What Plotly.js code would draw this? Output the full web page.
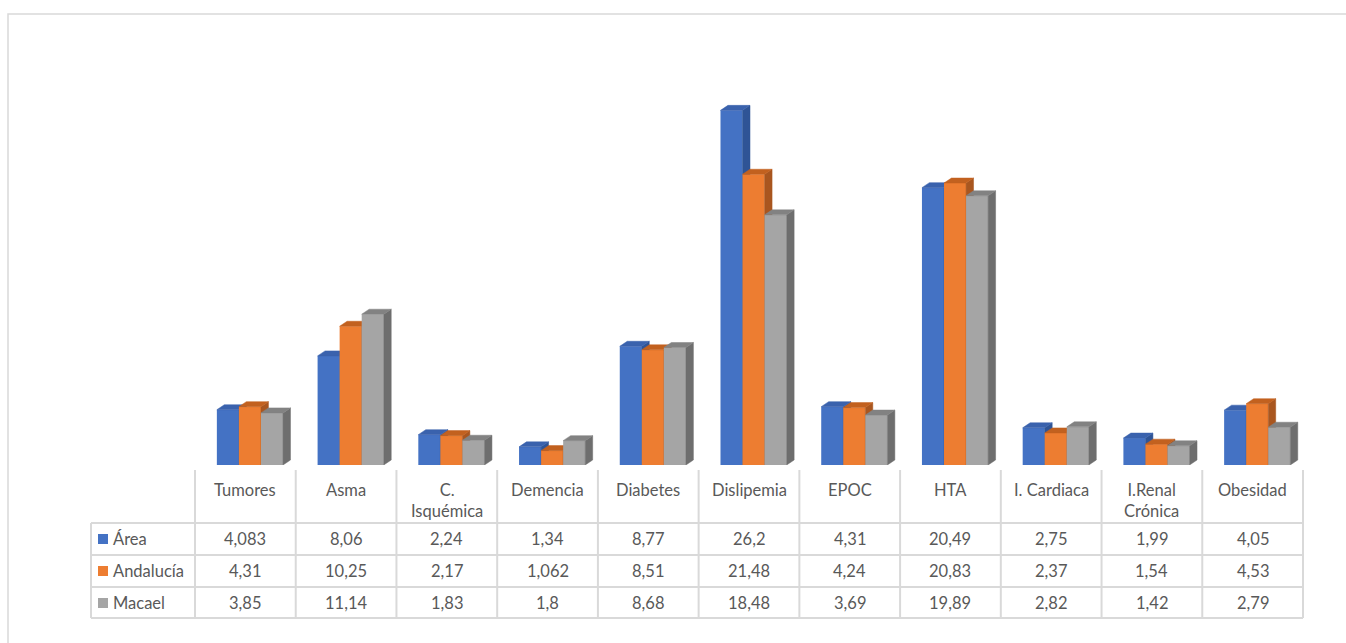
<!DOCTYPE html>
<html>
<head>
<meta charset="utf-8">
<script src="https://cdn.plot.ly/plotly-3.0.1.min.js"></script>
<style>html,body{margin:0;padding:0;background:#fff;}#chart{width:1346px;height:643px;}</style>
</head>
<body>
<div id="chart"></div>
<script>
// ---- data ----
var categories = ['Tumores','Asma','C. Isquémica','Demencia','Diabetes','Dislipemia','EPOC','HTA','I. Cardiaca','I.Renal Crónica','Obesidad'];
var headerLabels = ['Tumores','Asma','C.<br>Isquémica','Demencia','Diabetes','Dislipemia','EPOC','HTA','I. Cardiaca','I.Renal<br>Crónica','Obesidad'];
var seriesNames = ['Área','Andalucía','Macael'];
var area      = [4.083, 8.06, 2.24, 1.34, 8.77, 26.2, 4.31, 20.49, 2.75, 1.99, 4.05];
var andalucia = [4.31, 10.25, 2.17, 1.062, 8.51, 21.48, 4.24, 20.83, 2.37, 1.54, 4.53];
var macael    = [3.85, 11.14, 1.83, 1.8, 8.68, 18.48, 3.69, 19.89, 2.82, 1.42, 2.79];

// ---- style ----
var seriesValues = [area, andalucia, macael];
var frontColors = ['#4472C4','#ED7D31','#A5A5A5'];
var sideColors  = ['#2F5496','#A9561F','#6E6E6E'];
var topColors   = ['#3A62AD','#C2611F','#828282'];
var barWidth = 0.219;
var offsets = [-0.283, -0.064, 0.155];
var dx = 0.074, dy = 0.37;
var yMax = 28;

var W = 1346, H = 643;
var mL = 195, mR = 43, mT = 86, mB = 178;
var plotW = W - mL - mR, plotH = H - mT - mB;
var baseY = H - mB;
function px2x(px){ return (px - mL) / plotW; }
function py2y(py){ return (baseY - py) / plotH; }

var xIdx = categories.map(function(c,i){return i;});
var traces = [];
for (var s = 0; s < 3; s++) {
  var vals = seriesValues[s];
  var xa = s === 0 ? 'x' : 'x' + (s+1);
  var ya = s === 0 ? 'y' : 'y' + (s+1);
  var sx = [], sy = [], tx = [], ty = [];
  for (var i = 0; i < vals.length; i++) {
    var xl = i + offsets[s], xr = xl + barWidth, v = vals[i];
    sx.push(xr, xr, xr+dx, xr+dx, xr, null);
    sy.push(0, v, v+dy, dy, 0, null);
    tx.push(xl, xr, xr+dx, xl+dx, xl, null);
    ty.push(v, v, v+dy, v+dy, v, null);
  }
  traces.push({type:'bar', x:xIdx, y:vals, name:seriesNames[s], width:barWidth, offset:offsets[s],
    marker:{color:frontColors[s], line:{width:0}}, xaxis:xa, yaxis:ya, hoverinfo:'skip', showlegend:false});
  traces.push({type:'scatter', mode:'lines', x:sx, y:sy, fill:'toself', fillcolor:sideColors[s],
    line:{color:sideColors[s], width:0.5}, xaxis:xa, yaxis:ya, hoverinfo:'skip', showlegend:false});
  traces.push({type:'scatter', mode:'lines', x:tx, y:ty, fill:'toself', fillcolor:topColors[s],
    line:{color:topColors[s], width:0.5}, xaxis:xa, yaxis:ya, hoverinfo:'skip', showlegend:false});
}

var axX = {range:[-0.5, categories.length - 0.5], visible:false, fixedrange:true};
var axY = {range:[0, yMax], visible:false, fixedrange:true};

var gridColor = '#D9D9D9';
var shapes = [];
// outer chart border
shapes.push({type:'rect', xref:'paper', yref:'paper', x0:px2x(8), x1:px2x(1360), y0:py2y(660), y1:py2y(14),
  line:{color:gridColor, width:1.5}, fillcolor:'rgba(0,0,0,0)', layer:'below'});
var tableLeft = px2x(91);
var rowLines = [523, 555, 587, 618];
rowLines.forEach(function(py){
  shapes.push({type:'line', xref:'paper', yref:'paper', x0:tableLeft, x1:1, y0:py2y(py), y1:py2y(py), line:{color:gridColor, width:2}});
});
shapes.push({type:'line', xref:'paper', yref:'paper', x0:tableLeft, x1:tableLeft, y0:py2y(523), y1:py2y(618), line:{color:gridColor, width:2}});
for (var k = 0; k <= categories.length; k++) {
  var xp = k / categories.length;
  shapes.push({type:'line', xref:'paper', yref:'paper', x0:xp, x1:xp, y0:py2y(470), y1:py2y(618), line:{color:gridColor, width:2}});
}

var annotations = [];
var txtFont = {family:'Lato, "Open Sans", sans-serif', size:16.5, color:'#595959'};
headerLabels.forEach(function(lbl, i){
  annotations.push({xref:'paper', yref:'paper', x:(i+0.5)/categories.length, y:py2y(478), text:lbl,
    showarrow:false, xanchor:'center', yanchor:'top', align:'center', font:txtFont});
});
var rowCenters = [539, 571, 603];
for (var s2 = 0; s2 < 3; s2++) {
  var yc = py2y(rowCenters[s2]);
  shapes.push({type:'rect', xref:'paper', yref:'paper', x0:px2x(98), x1:px2x(108), y0:yc-5/plotH, y1:yc+5/plotH,
    line:{width:0}, fillcolor:frontColors[s2]});
  annotations.push({xref:'paper', yref:'paper', x:px2x(111), y:yc, text:seriesNames[s2], showarrow:false,
    xanchor:'left', yanchor:'middle', font:txtFont});
  seriesValues[s2].forEach(function(v, i){
    annotations.push({xref:'paper', yref:'paper', x:(i+0.5)/categories.length, y:yc, text:String(v).replace('.', ','),
      showarrow:false, xanchor:'center', yanchor:'middle', font:txtFont});
  });
}

var layout = {
  width:W, height:H, margin:{l:mL, r:mR, t:mT, b:mB, pad:0},
  paper_bgcolor:'#ffffff', plot_bgcolor:'rgba(0,0,0,0)',
  barmode:'overlay', showlegend:false,
  xaxis: Object.assign({}, axX),
  yaxis: Object.assign({}, axY),
  xaxis2: Object.assign({overlaying:'x', anchor:'y2'}, axX),
  yaxis2: Object.assign({overlaying:'y', anchor:'x2'}, axY),
  xaxis3: Object.assign({overlaying:'x', anchor:'y3'}, axX),
  yaxis3: Object.assign({overlaying:'y', anchor:'x3'}, axY),
  shapes:shapes, annotations:annotations,
  font:txtFont
};
Plotly.newPlot('chart', traces, layout, {displayModeBar:false, staticPlot:true});
</script>
</body>
</html>
